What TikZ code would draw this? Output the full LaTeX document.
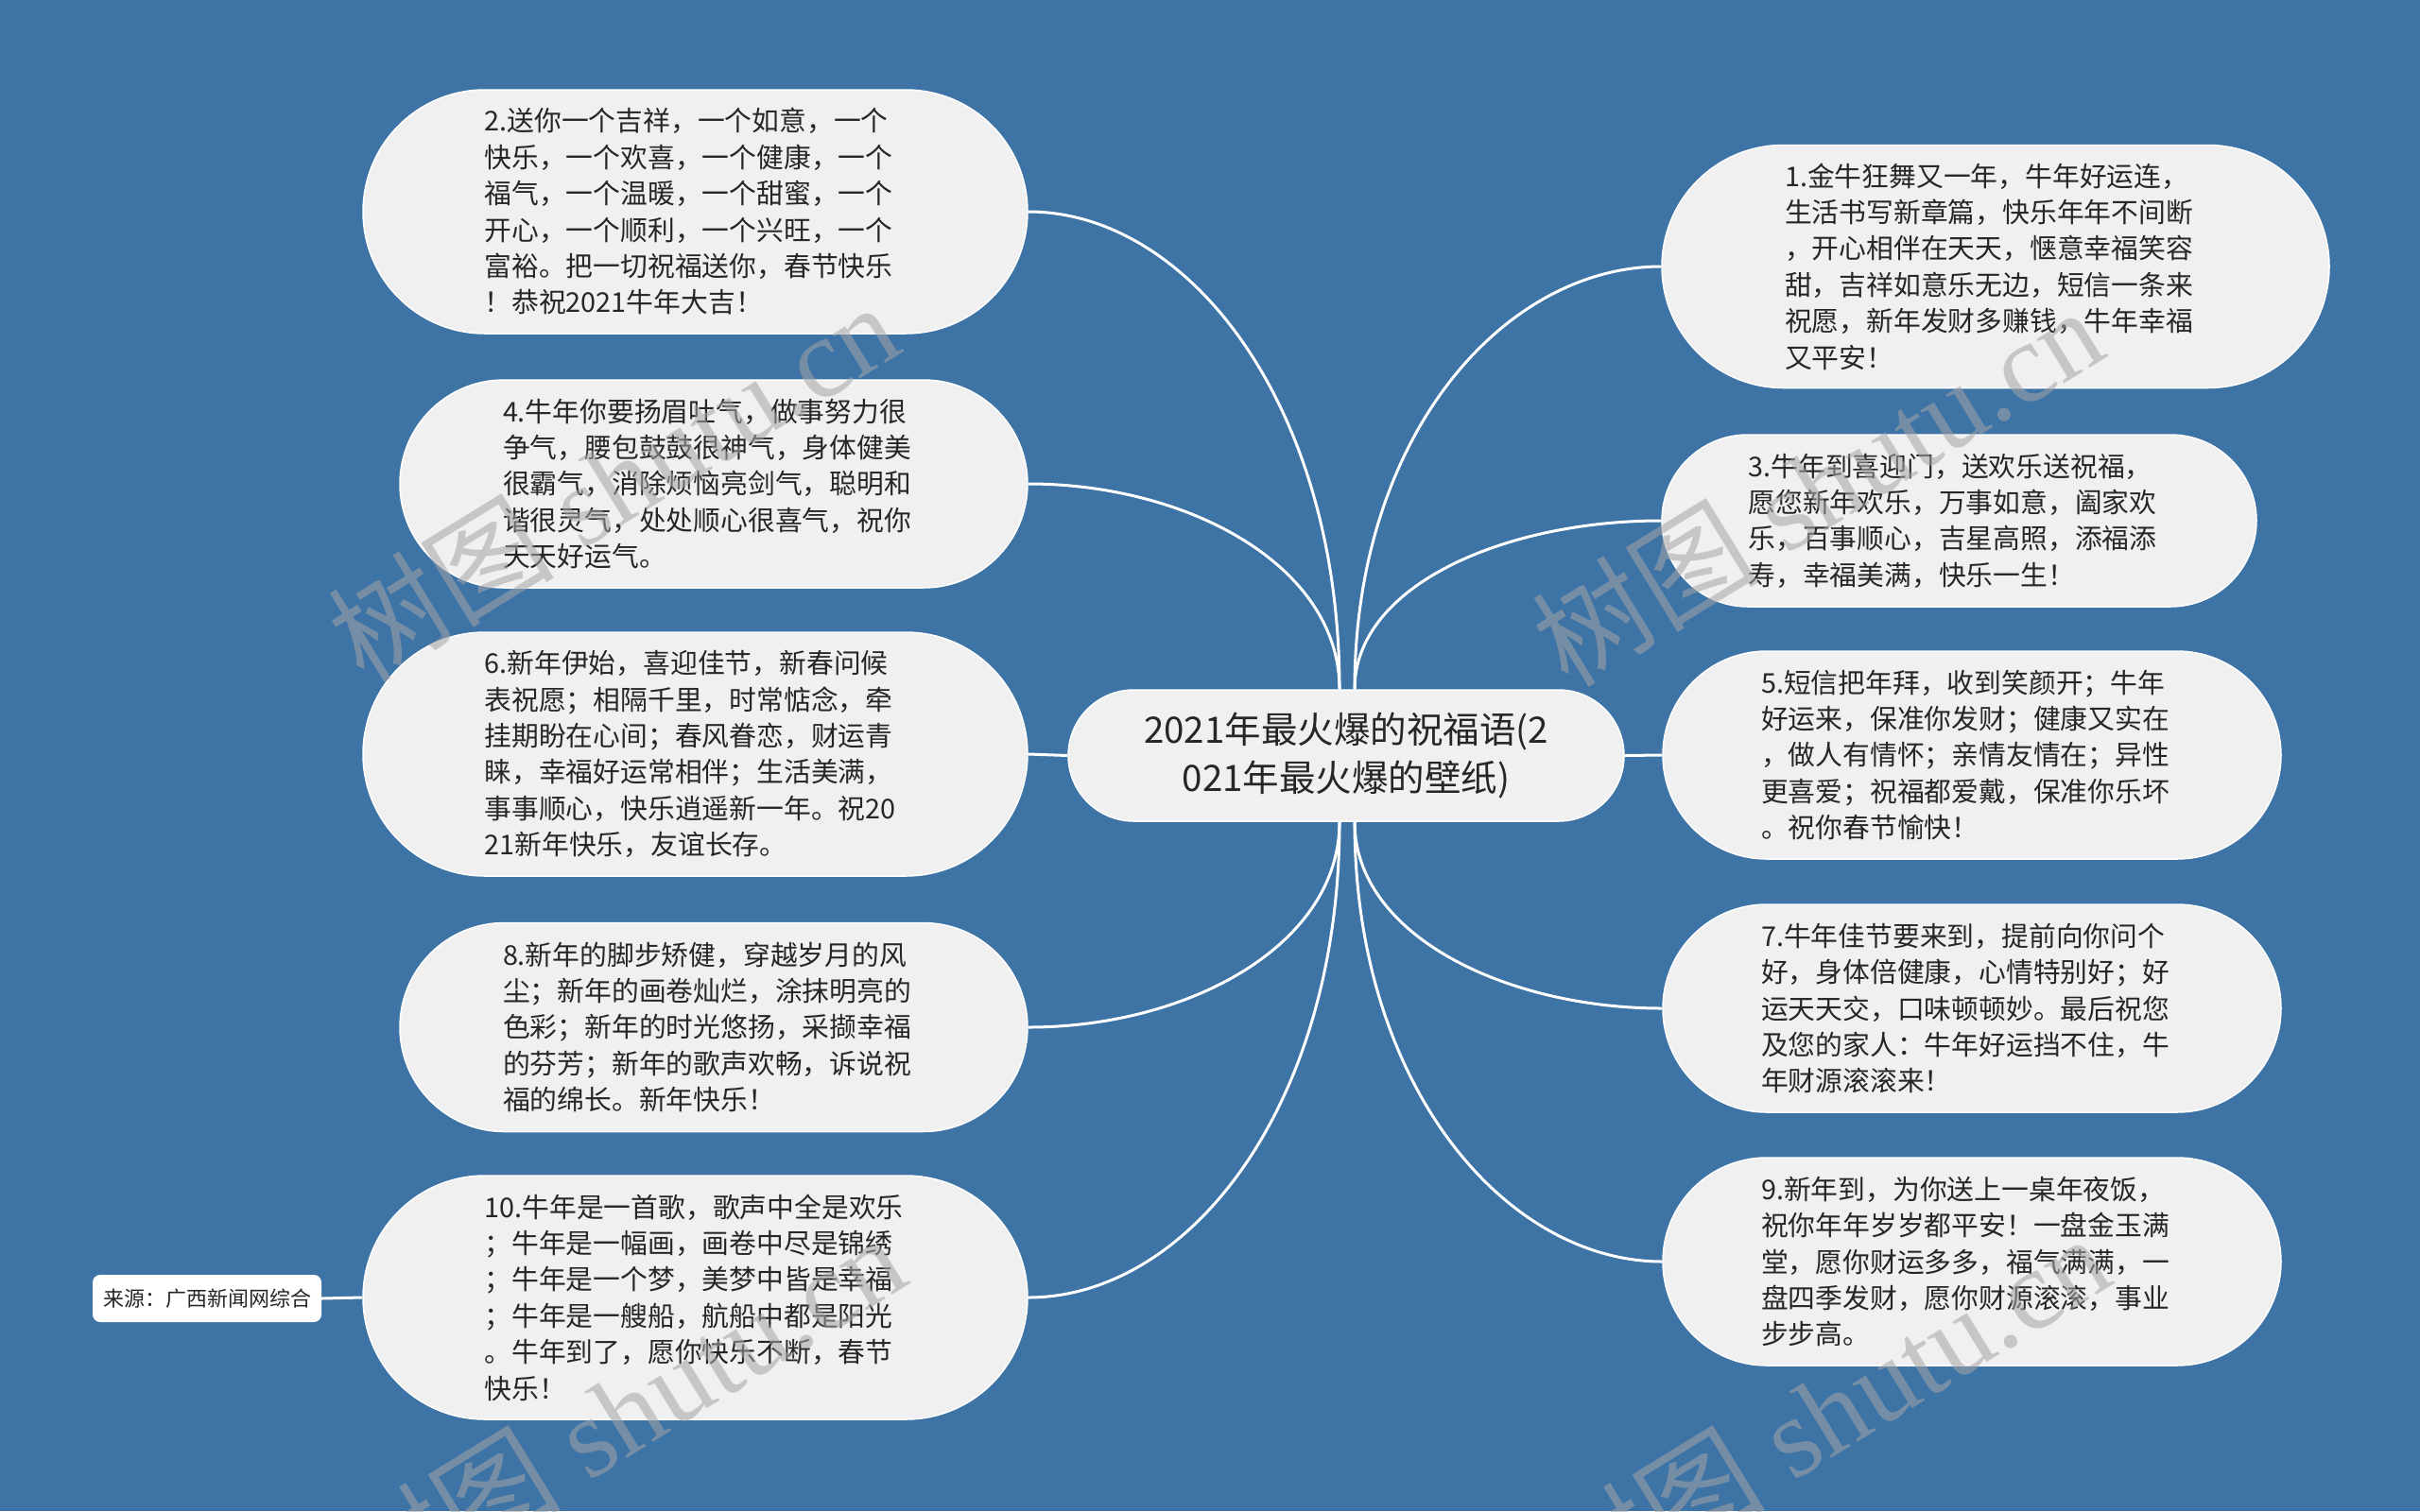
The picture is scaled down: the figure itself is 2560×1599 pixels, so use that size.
\documentclass[tikz,border=0pt]{standalone}
\usepackage{fontspec}
\newfontfamily\cjk{Noto Sans CJK SC}
\newfontfamily\wmf{Liberation Serif}
\usetikzlibrary{shapes.misc}
\definecolor{bgblue}{RGB}{61,115,165}
\definecolor{leaffill}{RGB}{240,240,240}
\definecolor{txt}{RGB}{38,38,38}
\definecolor{wmgray}{RGB}{165,165,165}
\tikzset{
  leaf/.style={rounded rectangle, fill=leaffill, draw=white, line width=1.5pt,
    inner sep=0pt, text width=446pt, align=left, text=txt,
    font=\cjk\fontsize{28.8pt}{38.4pt}\selectfont},
  hub/.style={rounded rectangle, fill=leaffill, draw=white, line width=1.5pt,
    inner sep=0pt, align=center, text=txt,
    font=\cjk\fontsize{38.5pt}{51pt}\selectfont},
  srcbox/.style={rectangle, rounded corners=8pt, fill=white, inner sep=0pt,
    text=txt, font=\cjk\fontsize{22pt}{26pt}\selectfont},
  conn/.style={draw=white, line width=3pt},
  wm/.style={text=wmgray, text opacity=0.55, rotate=31.6, inner sep=0pt,
    font=\wmf\fontsize{120pt}{120pt}\selectfont}
}
\begin{document}
\begin{tikzpicture}[x=1pt,y=-1pt]
\useasboundingbox (0,0) rectangle (2560,1599);
\fill[bgblue] (0,0) rectangle (2560,1599);

% hub
\node[hub, minimum width=588pt, minimum height=139pt] (c) at (1424,799.5)
  {2021年最火爆的祝福语(2\\021年最火爆的壁纸)};

% left leaves
\node[leaf, minimum width=703pt, minimum height=258pt] (n2) at (735.5,224)
  {2.送你一个吉祥，一个如意，一个\\快乐，一个欢喜，一个健康，一个\\福气，一个温暖，一个甜蜜，一个\\开心，一个顺利，一个兴旺，一个\\富裕。把一切祝福送你，春节快乐\\！恭祝2021牛年大吉！};
\node[leaf, minimum width=664pt, minimum height=220pt] (n4) at (755,512)
  {4.牛年你要扬眉吐气，做事努力很\\争气，腰包鼓鼓很神气，身体健美\\很霸气，消除烦恼亮剑气，聪明和\\谐很灵气，处处顺心很喜气，祝你\\天天好运气。};
\node[leaf, minimum width=703pt, minimum height=258pt] (n6) at (735.5,798)
  {6.新年伊始，喜迎佳节，新春问候\\表祝愿；相隔千里，时常惦念，牵\\挂期盼在心间；春风眷恋，财运青\\睐，幸福好运常相伴；生活美满，\\事事顺心，快乐逍遥新一年。祝20\\21新年快乐，友谊长存。};
\node[leaf, minimum width=664pt, minimum height=221pt] (n8) at (755,1087)
  {8.新年的脚步矫健，穿越岁月的风\\尘；新年的画卷灿烂，涂抹明亮的\\色彩；新年的时光悠扬，采撷幸福\\的芬芳；新年的歌声欢畅，诉说祝\\福的绵长。新年快乐！};
\node[leaf, minimum width=703pt, minimum height=258pt] (n10) at (735.5,1373)
  {10.牛年是一首歌，歌声中全是欢乐\\；牛年是一幅画，画卷中尽是锦绣\\；牛年是一个梦，美梦中皆是幸福\\；牛年是一艘船，航船中都是阳光\\。牛年到了，愿你快乐不断，春节\\快乐！};

% right leaves
\node[leaf, minimum width=706pt, minimum height=257pt] (n1) at (2111,282)
  {1.金牛狂舞又一年，牛年好运连，\\生活书写新章篇，快乐年年不间断\\，开心相伴在天天，惬意幸福笑容\\甜，吉祥如意乐无边，短信一条来\\祝愿，新年发财多赚钱，牛年幸福\\又平安！};
\node[leaf, minimum width=629pt, minimum height=182pt] (n3) at (2072.5,551)
  {3.牛年到喜迎门，送欢乐送祝福，\\愿您新年欢乐，万事如意，阖家欢\\乐，百事顺心，吉星高照，添福添\\寿，幸福美满，快乐一生！};
\node[leaf, minimum width=654pt, minimum height=220pt] (n5) at (2086,799)
  {5.短信把年拜，收到笑颜开；牛年\\好运来，保准你发财；健康又实在\\，做人有情怀；亲情友情在；异性\\更喜爱；祝福都爱戴，保准你乐坏\\。祝你春节愉快！};
\node[leaf, minimum width=654pt, minimum height=220pt] (n7) at (2086,1067)
  {7.牛年佳节要来到，提前向你问个\\好，身体倍健康，心情特别好；好\\运天天交，口味顿顿妙。最后祝您\\及您的家人：牛年好运挡不住，牛\\年财源滚滚来！};
\node[leaf, minimum width=654pt, minimum height=220pt] (n9) at (2086,1335)
  {9.新年到，为你送上一桌年夜饭，\\祝你年年岁岁都平安！一盘金玉满\\堂，愿你财运多多，福气满满，一\\盘四季发财，愿你财源滚滚，事业\\步步高。};

% source
\node[srcbox, minimum width=242pt, minimum height=50pt] (src) at (219,1374)
  {来源：广西新闻网综合};

% connector anchors on hub
\coordinate (tl) at ([xshift=-7pt]c.north);
\coordinate (bl) at ([xshift=-7pt]c.south);
\coordinate (tr) at ([xshift=9pt]c.north);
\coordinate (br) at ([xshift=9pt]c.south);

% connectors
\draw[conn] (tl) .. controls +(0,-300) and +(170,0) .. (n2.east);
\draw[conn] (tl) .. controls +(0,-130) and +(170,0) .. (n4.east);
\draw[conn] (c.west) -- (n6.east);
\draw[conn] (bl) .. controls +(0,130) and +(170,0) .. (n8.east);
\draw[conn] (bl) .. controls +(0,300) and +(170,0) .. (n10.east);
\draw[conn] (tr) .. controls +(0,-270) and +(-165,0) .. (n1.west);
\draw[conn] (tr) .. controls +(0,-110) and +(-165,0) .. (n3.west);
\draw[conn] (c.east) -- (n5.west);
\draw[conn] (br) .. controls +(0,120) and +(-165,0) .. (n7.west);
\draw[conn] (br) .. controls +(0,280) and +(-165,0) .. (n9.west);
\draw[conn] (src.east) -- (n10.west);

% watermarks
\node[wm] (w1) at (648,509) {{\cjk 树图} shutu.cn};
\node[wm] (w2) at (1922,514) {{\cjk 树图} shutu.cn};
\node[wm] (w3) at (655,1495) {{\cjk 树图} shutu.cn};
\node[wm] (w4) at (1929,1495) {{\cjk 树图} shutu.cn};
\end{tikzpicture}
\end{document}
